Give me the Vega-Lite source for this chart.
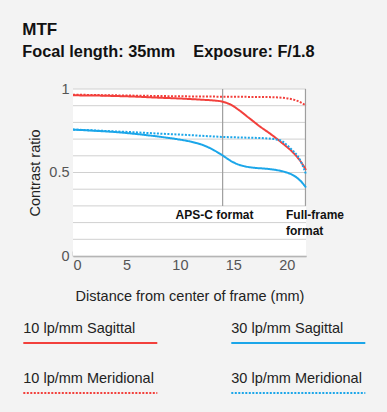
{
  "$schema": "https://vega.github.io/schema/vega-lite/v6.json",
  "background": "#f3f3f3",
  "padding": {"left": 22, "top": 20, "right": 23, "bottom": 25},
  "title": {
    "text": "MTF",
    "subtitle": "Focal length: 35mm\u00a0\u00a0\u00a0\u00a0Exposure: F/1.8",
    "anchor": "start",
    "frame": "bounds",
    "font": "Liberation Sans",
    "fontSize": 17,
    "fontWeight": "bold",
    "color": "#111111",
    "subtitleFont": "Liberation Sans",
    "subtitleFontSize": 16.3,
    "subtitleFontWeight": "bold",
    "subtitleColor": "#111111",
    "subtitlePadding": 5,
    "offset": 20
  },
  "config": {"view": {"stroke": null}, "font": "Liberation Sans"},
  "datasets": {
    "curves": [
      {"series": "10 lp/mm Sagittal", "dist": 0, "ratio": 0.962},
      {"series": "10 lp/mm Sagittal", "dist": 2, "ratio": 0.961},
      {"series": "10 lp/mm Sagittal", "dist": 4, "ratio": 0.958},
      {"series": "10 lp/mm Sagittal", "dist": 6, "ratio": 0.954},
      {"series": "10 lp/mm Sagittal", "dist": 8, "ratio": 0.948},
      {"series": "10 lp/mm Sagittal", "dist": 10, "ratio": 0.943},
      {"series": "10 lp/mm Sagittal", "dist": 12, "ratio": 0.936},
      {"series": "10 lp/mm Sagittal", "dist": 13, "ratio": 0.932},
      {"series": "10 lp/mm Sagittal", "dist": 14, "ratio": 0.924},
      {"series": "10 lp/mm Sagittal", "dist": 14.8, "ratio": 0.905},
      {"series": "10 lp/mm Sagittal", "dist": 15.5, "ratio": 0.875},
      {"series": "10 lp/mm Sagittal", "dist": 16.5, "ratio": 0.825},
      {"series": "10 lp/mm Sagittal", "dist": 17.5, "ratio": 0.775},
      {"series": "10 lp/mm Sagittal", "dist": 18.5, "ratio": 0.73},
      {"series": "10 lp/mm Sagittal", "dist": 19.5, "ratio": 0.68},
      {"series": "10 lp/mm Sagittal", "dist": 20.5, "ratio": 0.625},
      {"series": "10 lp/mm Sagittal", "dist": 21.2, "ratio": 0.575},
      {"series": "10 lp/mm Sagittal", "dist": 21.8, "ratio": 0.515},
      {"series": "10 lp/mm Meridional", "dist": 0, "ratio": 0.966},
      {"series": "10 lp/mm Meridional", "dist": 4, "ratio": 0.962},
      {"series": "10 lp/mm Meridional", "dist": 8, "ratio": 0.958},
      {"series": "10 lp/mm Meridional", "dist": 12, "ratio": 0.955},
      {"series": "10 lp/mm Meridional", "dist": 14, "ratio": 0.954},
      {"series": "10 lp/mm Meridional", "dist": 16, "ratio": 0.953},
      {"series": "10 lp/mm Meridional", "dist": 18, "ratio": 0.952},
      {"series": "10 lp/mm Meridional", "dist": 19, "ratio": 0.95},
      {"series": "10 lp/mm Meridional", "dist": 20, "ratio": 0.944},
      {"series": "10 lp/mm Meridional", "dist": 20.7, "ratio": 0.935},
      {"series": "10 lp/mm Meridional", "dist": 21.3, "ratio": 0.92},
      {"series": "10 lp/mm Meridional", "dist": 21.8, "ratio": 0.9},
      {"series": "30 lp/mm Sagittal", "dist": 0, "ratio": 0.757},
      {"series": "30 lp/mm Sagittal", "dist": 2, "ratio": 0.75},
      {"series": "30 lp/mm Sagittal", "dist": 4, "ratio": 0.742},
      {"series": "30 lp/mm Sagittal", "dist": 6, "ratio": 0.73},
      {"series": "30 lp/mm Sagittal", "dist": 8, "ratio": 0.715},
      {"series": "30 lp/mm Sagittal", "dist": 9.7, "ratio": 0.7},
      {"series": "30 lp/mm Sagittal", "dist": 11, "ratio": 0.685},
      {"series": "30 lp/mm Sagittal", "dist": 12, "ratio": 0.668},
      {"series": "30 lp/mm Sagittal", "dist": 13, "ratio": 0.64},
      {"series": "30 lp/mm Sagittal", "dist": 14, "ratio": 0.602},
      {"series": "30 lp/mm Sagittal", "dist": 14.7, "ratio": 0.572},
      {"series": "30 lp/mm Sagittal", "dist": 15.3, "ratio": 0.552},
      {"series": "30 lp/mm Sagittal", "dist": 16, "ratio": 0.538},
      {"series": "30 lp/mm Sagittal", "dist": 17, "ratio": 0.528},
      {"series": "30 lp/mm Sagittal", "dist": 18, "ratio": 0.523},
      {"series": "30 lp/mm Sagittal", "dist": 19, "ratio": 0.515},
      {"series": "30 lp/mm Sagittal", "dist": 20, "ratio": 0.5},
      {"series": "30 lp/mm Sagittal", "dist": 20.7, "ratio": 0.48},
      {"series": "30 lp/mm Sagittal", "dist": 21.2, "ratio": 0.455},
      {"series": "30 lp/mm Sagittal", "dist": 21.5, "ratio": 0.435},
      {"series": "30 lp/mm Sagittal", "dist": 21.8, "ratio": 0.41},
      {"series": "30 lp/mm Meridional", "dist": 0, "ratio": 0.757},
      {"series": "30 lp/mm Meridional", "dist": 2, "ratio": 0.752},
      {"series": "30 lp/mm Meridional", "dist": 4, "ratio": 0.746},
      {"series": "30 lp/mm Meridional", "dist": 6, "ratio": 0.74},
      {"series": "30 lp/mm Meridional", "dist": 8, "ratio": 0.733},
      {"series": "30 lp/mm Meridional", "dist": 10, "ratio": 0.727},
      {"series": "30 lp/mm Meridional", "dist": 12, "ratio": 0.72},
      {"series": "30 lp/mm Meridional", "dist": 14, "ratio": 0.713},
      {"series": "30 lp/mm Meridional", "dist": 16, "ratio": 0.709},
      {"series": "30 lp/mm Meridional", "dist": 18, "ratio": 0.705},
      {"series": "30 lp/mm Meridional", "dist": 19, "ratio": 0.698},
      {"series": "30 lp/mm Meridional", "dist": 19.5, "ratio": 0.69},
      {"series": "30 lp/mm Meridional", "dist": 20, "ratio": 0.665},
      {"series": "30 lp/mm Meridional", "dist": 20.5, "ratio": 0.635},
      {"series": "30 lp/mm Meridional", "dist": 21, "ratio": 0.6},
      {"series": "30 lp/mm Meridional", "dist": 21.4, "ratio": 0.555},
      {"series": "30 lp/mm Meridional", "dist": 21.8, "ratio": 0.49}
    ],
    "gridlines": [
      {"g": 0}, {"g": 0.1}, {"g": 0.2}, {"g": 0.3}, {"g": 0.4}, {"g": 0.5},
      {"g": 0.6}, {"g": 0.7}, {"g": 0.8}, {"g": 0.9}, {"g": 1}
    ],
    "refs": [{"dist": 14}, {"dist": 21.75}],
    "keys": [
      {"series": "10 lp/mm Sagittal", "freq": "10", "dir": "Sagittal"},
      {"series": "30 lp/mm Sagittal", "freq": "30", "dir": "Sagittal"},
      {"series": "10 lp/mm Meridional", "freq": "10", "dir": "Meridional"},
      {"series": "30 lp/mm Meridional", "freq": "30", "dir": "Meridional"}
    ]
  },
  "spacing": 18,
  "vconcat": [
    {
      "width": 233,
      "height": 167,
      "layer": [
        {
          "data": {"values": [{"bg": "plot"}]},
          "mark": {"type": "rect", "fill": "#ffffff"},
          "encoding": {
            "x": {"datum": 0, "type": "quantitative"},
            "x2": {"datum": 21.8},
            "y": {"datum": 0, "type": "quantitative"},
            "y2": {"datum": 1}
          }
        },
        {
          "data": {"name": "gridlines"},
          "mark": {"type": "rule", "stroke": "#d0d0d0", "strokeWidth": 1},
          "encoding": {
            "x": {"datum": 0, "type": "quantitative"},
            "x2": {"datum": 21.8},
            "y": {
              "field": "g",
              "type": "quantitative",
              "scale": {"domain": [0, 1], "nice": false},
              "axis": {
                "values": [0, 0.5, 1],
                "format": "~g",
                "labelOverlap": false,
                "title": "Contrast ratio",
                "grid": false,
                "domain": false,
                "ticks": false,
                "labelFont": "Liberation Sans",
                "labelFontSize": 14.5,
                "labelColor": "#555555",
                "labelPadding": 4,
                "titleFont": "Liberation Sans",
                "titleFontSize": 14.5,
                "titleFontWeight": "normal",
                "titleColor": "#222222",
                "titlePadding": 6
              }
            }
          }
        },
        {
          "data": {"name": "refs"},
          "mark": {"type": "rule", "color": "#9e9e9e", "strokeWidth": 1.2},
          "encoding": {
            "x": {"field": "dist", "type": "quantitative"},
            "y": {"datum": 0.3, "type": "quantitative"},
            "y2": {"datum": 1}
          }
        },
        {
          "data": {"name": "curves"},
          "mark": {"type": "line", "interpolate": "monotone", "strokeWidth": 2},
          "encoding": {
            "x": {
              "field": "dist",
              "type": "quantitative",
              "scale": {"domain": [0, 21.8], "nice": false},
              "axis": {
                "values": [0, 5, 10, 15, 20],
                "title": "Distance from center of frame (mm)",
                "grid": false,
                "domainColor": "#9a9a9a",
                "domainWidth": 1.5,
                "tickColor": "#9a9a9a",
                "tickWidth": 1.5,
                "tickSize": -5,
                "labelFlush": true,
                "labelFont": "Liberation Sans",
                "labelFontSize": 14.5,
                "labelColor": "#555555",
                "labelPadding": 7,
                "titleFont": "Liberation Sans",
                "titleFontSize": 14.5,
                "titleFontWeight": "normal",
                "titleColor": "#222222",
                "titlePadding": 18
              }
            },
            "y": {"field": "ratio", "type": "quantitative"},
            "color": {
              "field": "series",
              "type": "nominal",
              "scale": {
                "domain": ["10 lp/mm Sagittal", "10 lp/mm Meridional", "30 lp/mm Sagittal", "30 lp/mm Meridional"],
                "range": ["#f2403c", "#f2403c", "#1ba6e9", "#1ba6e9"]
              },
              "legend": null
            },
            "strokeDash": {
              "field": "series",
              "type": "nominal",
              "scale": {
                "domain": ["10 lp/mm Sagittal", "10 lp/mm Meridional", "30 lp/mm Sagittal", "30 lp/mm Meridional"],
                "range": [[1, 0], [2, 1.5], [1, 0], [2, 1.5]]
              },
              "legend": null
            }
          }
        },
        {
          "data": {"values": [{"label": "APS-C format", "dist": 13.24, "ratio": 0.223}]},
          "mark": {"type": "text", "align": "center", "baseline": "alphabetic", "font": "Liberation Sans", "fontWeight": "bold", "fontSize": 12, "color": "#111111"},
          "encoding": {
            "x": {"field": "dist", "type": "quantitative"},
            "y": {"field": "ratio", "type": "quantitative"},
            "text": {"field": "label"}
          }
        },
        {
          "data": {"values": [{"label": "Full-frame\nformat", "dist": 19.93, "ratio": 0.223}]},
          "mark": {"type": "text", "align": "left", "baseline": "alphabetic", "font": "Liberation Sans", "fontWeight": "bold", "fontSize": 12, "lineBreak": "\n", "lineHeight": 16, "color": "#111111"},
          "encoding": {
            "x": {"field": "dist", "type": "quantitative"},
            "y": {"field": "ratio", "type": "quantitative"},
            "text": {"field": "label"}
          }
        }
      ]
    },
    {
      "width": 208,
      "height": 50,
      "data": {"name": "keys"},
      "encoding": {
        "x": {"field": "freq", "type": "nominal", "scale": {"type": "point", "padding": 0, "range": [-49.7, 158.3]}, "axis": null},
        "y": {"field": "dir", "type": "nominal", "sort": ["Sagittal", "Meridional"], "scale": {"type": "point", "padding": 0}, "axis": null}
      },
      "layer": [
        {
          "mark": {"type": "text", "align": "left", "baseline": "alphabetic", "fontSize": 14.5, "font": "Liberation Sans", "color": "#222222"},
          "encoding": {"text": {"field": "series"}}
        },
        {
          "mark": {"type": "rule", "strokeWidth": 2, "x2Offset": 134, "yOffset": 10},
          "encoding": {
            "x2": {"field": "freq"},
            "color": {
              "field": "series",
              "type": "nominal",
              "scale": {
                "domain": ["10 lp/mm Sagittal", "10 lp/mm Meridional", "30 lp/mm Sagittal", "30 lp/mm Meridional"],
                "range": ["#f2403c", "#f2403c", "#1ba6e9", "#1ba6e9"]
              },
              "legend": null
            },
            "strokeDash": {
              "field": "series",
              "type": "nominal",
              "scale": {
                "domain": ["10 lp/mm Sagittal", "10 lp/mm Meridional", "30 lp/mm Sagittal", "30 lp/mm Meridional"],
                "range": [[1, 0], [2, 5.8], [1, 0], [2, 5.8]]
              },
              "legend": null
            }
          }
        }
      ]
    }
  ]
}
